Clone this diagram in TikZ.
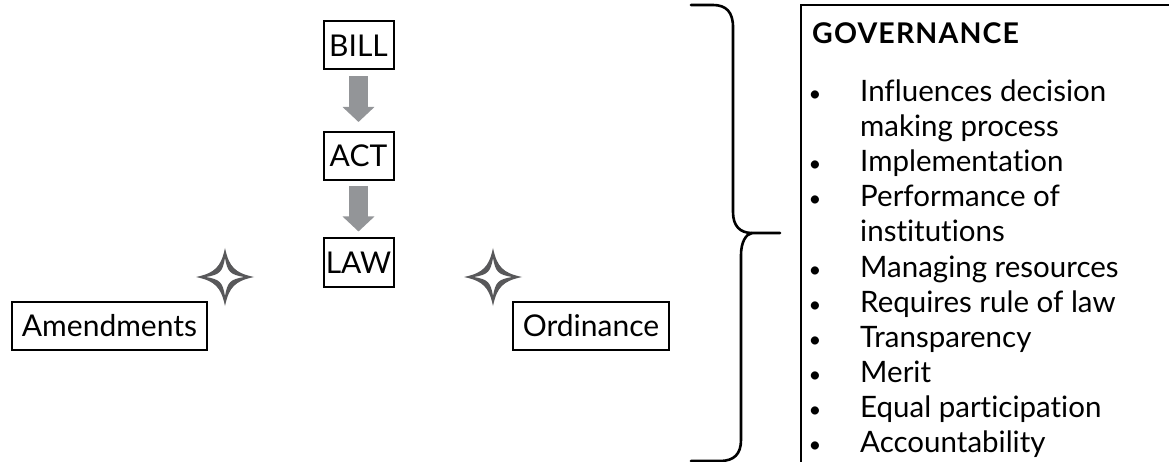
\documentclass[tikz,border=0pt]{standalone}
\usepackage{fontspec}
\setmainfont{Lato}[Ligatures={NoCommon}]
\usetikzlibrary{arrows.meta}
\definecolor{arrowgray}{RGB}{147,149,152}
\definecolor{stargray}{RGB}{88,88,90}
\tikzset{
  termbox/.style={draw=black, line width=2pt, inner sep=0pt, font=\fontsize{30}{34}\selectfont, minimum height=48pt},
  fatarrow/.style={draw=arrowgray, line width=19pt, -{Triangle[width=31pt,length=15pt]}},
  bracepath/.style={draw=black, line width=2.6pt, line cap=round},
  listtext/.style={anchor=base west, inner sep=0pt, font=\fontsize{29.5}{34}\selectfont},
  bul/.style={anchor=base, inner sep=0pt, font=\fontsize{22}{34}\selectfont},
  sparkle/.pic={
    \fill[stargray, even odd rule]
      (29,0) .. controls (10,4) and (4,10) .. (0,29)
             .. controls (-4,10) and (-10,4) .. (-29,0)
             .. controls (-10,-4) and (-4,-10) .. (0,-29)
             .. controls (4,-10) and (10,-4) .. cycle
      (19,0) .. controls (5,2.5) and (2.5,5) .. (0,19)
             .. controls (-2.5,5) and (-5,2.5) .. (-19,0)
             .. controls (-5,-2.5) and (-2.5,-5) .. (0,-19)
             .. controls (2.5,-5) and (5,-2.5) .. cycle;
  }
}
\begin{document}
\begin{tikzpicture}[x=1pt, y=-1pt]
\useasboundingbox (0,0) rectangle (1169,462);
% central chain
\node[termbox, minimum width=70pt] (bill) at (358.5,45.5) {BILL};
\node[termbox, minimum width=70pt] (act) at (358.5,156) {ACT};
\node[termbox, minimum width=70pt] (law) at (358.5,262.5) {LAW};
\draw[fatarrow] ([yshift=-6pt]bill.south) -- ([yshift=9pt]act.north);
\draw[fatarrow] ([yshift=-5pt]act.south) -- ([yshift=6pt]law.north);
% side boxes
\node[termbox, minimum width=195pt] (amend) at (109.5,326) {Amendments};
\node[termbox, minimum width=156pt] (ordin) at (591,326) {Ordinance};
% stars
\pic at (225,277) {sparkle};
\pic at (493,277) {sparkle};
% brace
\coordinate (bracetip) at (780,233);
\draw[bracepath] (691,5) -- (713,5) .. controls (726,5) and (733,12) .. (733,27) -- (733,212)
  .. controls (733,226) and (740,233) .. (752,233) -- (bracetip);
\draw[bracepath] (752,233) .. controls (746,234) and (741,242) .. (741,255) -- (741,440)
  .. controls (741,454) and (734,461) .. (720,461) -- (691,461);
% governance box
\coordinate (gtl) at (801,5);
\draw[line width=2pt] (1170,5) -- (gtl) -- (801,463);
\node[listtext, font=\fontsize{28.5}{34}\selectfont\bfseries\addfontfeature{LetterSpace=4}] (gov) at (812,44) {GOVERNANCE};
\foreach \y/\t/\b in {102/Influences decision/1, 137/making process/0, 172/Implementation/1,
  207/Performance of/1, 242/institutions/0, 277/Managing resources/1, 312/Requires rule of law/1,
  347/Transparency/1, 382/Merit/1, 417/Equal participation/1, 452/Accountability/1}{
  \node[listtext] (item\y) at (860,\y) {\t};
  \ifnum\b=1 \node[bul] (bul\y) at (815,\y) {•};\fi
}
\end{tikzpicture}
\end{document}
